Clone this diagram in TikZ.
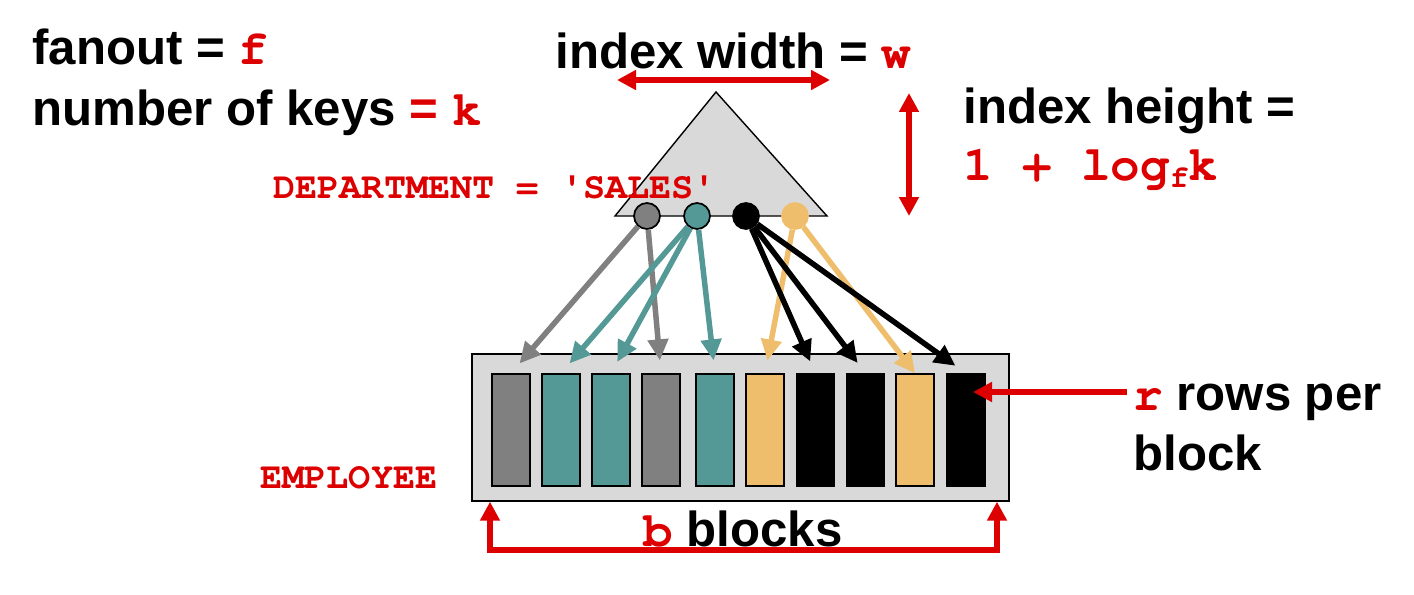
\documentclass[tikz,border=0pt]{standalone}
\usepackage{fontspec}
\setmainfont{Liberation Sans}
\setmonofont{TeX Gyre Cursor}
\usetikzlibrary{arrows.meta}
\definecolor{keyred}{RGB}{221,0,0}
\definecolor{tealblk}{RGB}{85,153,150}
\definecolor{sandblk}{RGB}{239,190,108}
\definecolor{grayblk}{RGB}{128,128,128}
\definecolor{idxfill}{RGB}{217,217,217}
\newcommand{\kw}[1]{{\ttfamily\bfseries\color{keyred}#1}}

\begin{document}
\begin{tikzpicture}[x=0.02cm, y=-0.02cm,
		lbl/.style={font=\fontsize{28}{34}\selectfont\bfseries, anchor=base west, inner sep=0pt},
		code/.style={font=\fontsize{21}{25}\selectfont\ttfamily\bfseries, text=keyred, anchor=base west, inner sep=0pt},
		ptr/.style={draw, circle, line width=1pt, inner sep=0pt, minimum size=0.52cm},
		blk/.style={draw, line width=0.8pt, inner sep=0pt, minimum width=0.76cm, minimum height=2.24cm},
		link/.style={line width=0.11cm, -{Triangle[length=0.42cm, width=0.4cm]}, shorten >=0.26cm},
		measure/.style={keyred, line width=0.11cm, {Triangle[length=0.38cm, width=0.38cm]}-{Triangle[length=0.38cm, width=0.38cm]}}]
		\useasboundingbox (0,0) rectangle (1414,595);
		
		\node[lbl] (fanout) at (32,64) {fanout = \kw{f}};
		\node[lbl] (nkeys) at (32,125) {number of keys {\color{keyred}=} \kw{k}};
		\node[lbl] (iwidth) at (555,68) {index width = \kw{w}};
		\node[lbl] (iheight) at (963,123) {index height =};
		\node[lbl] (hval) at (963,180) {\kw{1 + log}\raisebox{-0.3ex}{\fontsize{18}{20}\selectfont\kw{f}}\kw{k}};
		
		\draw[fill=idxfill, line width=0.8pt] (716,92) -- (827,216) -- (615,216) -- cycle;
		\node[code] (dept) at (273,198) {DEPARTMENT = 'SALES'};
		
		\coordinate (wl) at (617,80);
		\coordinate (wr) at (830,80);
		\draw[measure] (wl) -- (wr);
		\coordinate (ht) at (909,93);
		\coordinate (hb) at (909,216);
		\draw[measure] (ht) -- (hb);
		
		\node[ptr, fill=grayblk] (pg) at (647,216) {};
		\node[ptr, fill=tealblk] (pt) at (697,216) {};
		\node[ptr, fill=black] (pb) at (746,216) {};
		\node[ptr, fill=sandblk, draw=sandblk] (ps) at (795,216) {};
		
		\node[draw, fill=idxfill, line width=0.8pt, inner sep=0pt, minimum width=10.74cm, minimum height=2.94cm] (emp) at (740.5,427.5) {};
		\foreach \x/\c [count=\i] in {511/grayblk, 561/tealblk, 611/tealblk, 661/grayblk, 715/tealblk,
			765/sandblk, 815.5/black, 865.5/black, 915/sandblk, 966/black}
		\node[blk, fill=\c] (b\i) at (\x,430) {};
		\node[code] (emplbl) at (260,488) {EMPLOYEE};
		
		\draw[link, grayblk] (pg) -- (b1.north);
		\draw[link, grayblk] (pg) -- (b4.north);
		\draw[link, tealblk] (pt) -- (b2.north);
		\draw[link, tealblk] (pt) -- (b3.north);
		\draw[link, tealblk] (pt) -- (b5.north);
		\draw[link, sandblk] (ps) -- (b6.north);
		\draw[link, sandblk, shorten >=0pt] (ps) -- (b9.north);
		\draw[link] (pb) -- (b7.north);
		\draw[link] (pb) -- (b8.north);
		\draw[link] (pb) -- (b10.north);
		
		\node[lbl] (rlbl) at (1133,410) {\kw{r} rows per};
		\node[lbl] (blocklbl) at (1133,470) {block};
		\coordinate (rtail) at (1127,392);
		\coordinate (rtip) at (973,392);
		\draw[keyred, line width=0.11cm, -{Triangle[length=0.38cm, width=0.38cm]}] (rtail) -- (rtip);
		
		\node[lbl] (blbl) at (643,546) {\kw{b} blocks};
		\coordinate (bl) at (490,550);
		\coordinate (br) at (997,550);
		\draw[measure] (emp.south -| bl) -- (bl) -- (br) -- (emp.south -| br);
		
\end{tikzpicture}
\end{document}
